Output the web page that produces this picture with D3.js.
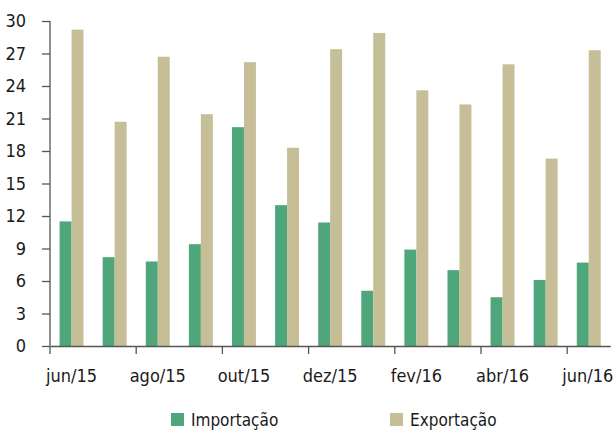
<!DOCTYPE html>
<html><head><meta charset="utf-8">
<script src="https://cdn.jsdelivr.net/npm/d3@7"></script>
<style>
body{margin:0;background:#fff;}
text{font-family:"DejaVu Sans Condensed","Liberation Sans Narrow",sans-serif;fill:#1a1a1a;}
</style></head>
<body><svg id="c" width="614" height="430"></svg>
<script>
const months = ["jun/15","jul/15","ago/15","set/15","out/15","nov/15","dez/15","jan/16","fev/16","mar/16","abr/16","mai/16","jun/16"];
const importacao = [11.5, 8.2, 7.8, 9.4, 20.2, 13.0, 11.4, 5.1, 8.9, 7.0, 4.5, 6.1, 7.7];
const exportacao = [29.2, 20.7, 26.7, 21.4, 26.2, 18.3, 27.4, 28.9, 23.6, 22.3, 26.0, 17.3, 27.3];
const seriesNames = ["Importação","Exportação"];
const seriesColors = ["#4ea67a","#c6be97"];
const yTicks = [0,3,6,9,12,15,18,21,24,27,30];
const xTickLabels = ["jun/15","ago/15","out/15","dez/15","fev/16","abr/16","jun/16"];

const svg = d3.select("#c");
const x = d3.scaleBand().domain(months).range([50, 610.3]).padding(0);
const bw = x.bandwidth();
const x1 = d3.scaleBand().domain(seriesNames).range([0, bw]).paddingInner(0).paddingOuter(0.8);
const y = d3.scaleLinear().domain([0,30]).range([346,21]);
const values = [importacao, exportacao];

seriesNames.forEach((s,si)=>{
  svg.append("g").selectAll("rect").data(months).join("rect")
    .attr("x", m => x(m) + x1(s))
    .attr("width", x1.bandwidth())
    .attr("y", (m,i) => y(values[si][i]))
    .attr("height", (m,i) => y(0) - y(values[si][i]))
    .attr("fill", seriesColors[si]);
});

const ya = svg.append("g").attr("transform","translate(50,0)")
  .call(d3.axisLeft(y).tickValues(yTicks).tickSize(8).tickSizeOuter(0).tickPadding(16));
ya.selectAll("text").style("font-size","18px").attr("fill","#1a1a1a");
ya.selectAll("line,path").attr("stroke","#555").attr("stroke-width",1.3);
ya.select(".domain").attr("d","M0,21V346");

const xa = svg.append("g").attr("transform","translate(0,346)")
  .call(d3.axisBottom(x).tickValues(xTickLabels).tickSize(8).tickSizeOuter(0).tickPadding(15));
xa.selectAll("line").attr("x1",-bw/2).attr("x2",-bw/2);
xa.selectAll("text").style("font-size","18px").attr("fill","#1a1a1a");
xa.selectAll(".tick:last-of-type text").attr("dx","-1");
xa.selectAll("line,path").attr("stroke","#555").attr("stroke-width",1.3);

const legX = [171, 390];
seriesNames.forEach((s,i)=>{
  const g = svg.append("g").attr("transform",`translate(${legX[i]},413)`);
  g.append("rect").attr("width",13).attr("height",13).attr("fill",seriesColors[i]);
  g.append("text").attr("x",20).attr("y",13).style("font-size","17px").text(s);
});
</script></body></html>
